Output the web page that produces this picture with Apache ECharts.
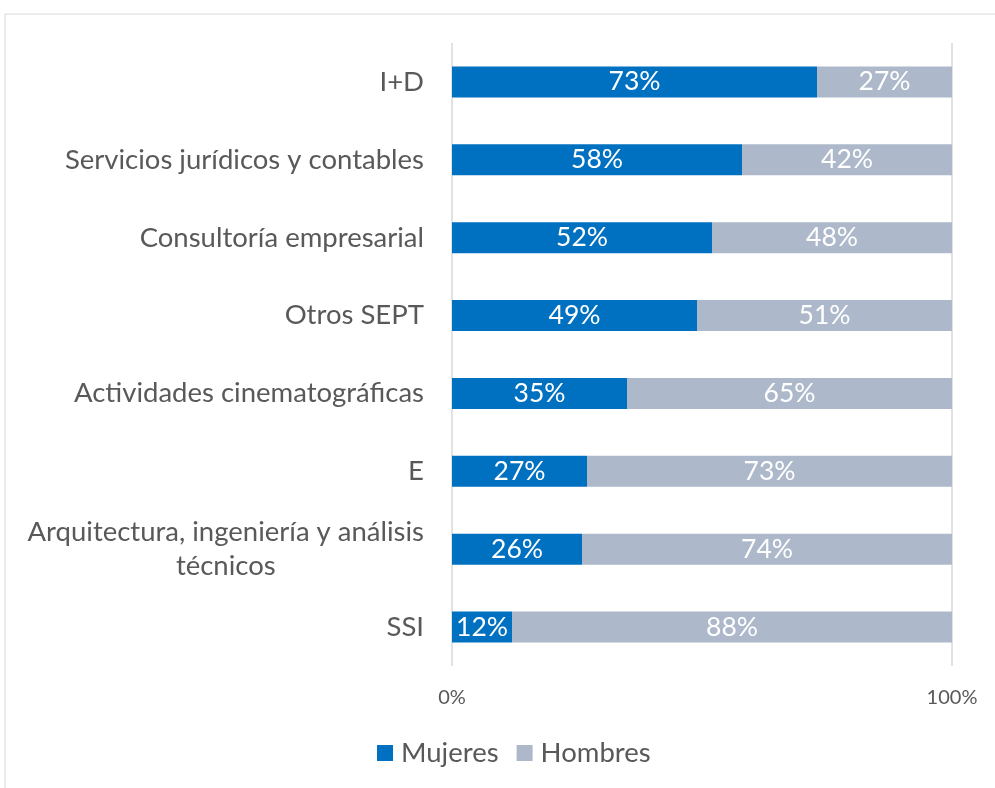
<!DOCTYPE html>
<html>
<head>
<meta charset="utf-8">
<script src="https://cdn.jsdelivr.net/npm/echarts@6/dist/echarts.min.js"></script>
<style>
html, body { margin: 0; padding: 0; background: #fff; }
#chart { width: 995px; height: 788px; }
</style>
</head>
<body>
<div id="chart"></div>
<script>
var categories = ['I+D', 'Servicios jurídicos y contables', 'Consultoría empresarial', 'Otros SEPT',
    'Actividades cinematográficas', 'E', 'Arquitectura, ingeniería y análisis técnicos', 'SSI'];
var mujeres = [73, 58, 52, 49, 35, 27, 26, 12];
var hombres = [27, 42, 48, 51, 65, 73, 74, 88];
var axisTicks = [0, 100];

var font = 'Lato';
var catSize = 27.5;
var valSize = 26.5;

// el texto largo va en dos lineas, la segunda centrada como en Excel
var line1 = 'Arquitectura, ingeniería y análisis';
var line2 = 'técnicos';
var ctx = document.createElement('canvas').getContext('2d');
ctx.font = catSize + 'px ' + font;
var w1 = ctx.measureText(line1).width;

var chart = echarts.init(document.getElementById('chart'), null, { renderer: 'canvas' });

var option = {
    animation: false,
    textStyle: { fontFamily: font },
    graphic: [{
        type: 'rect',
        shape: { x: 5, y: 14, width: 1000, height: 800 },
        style: { fill: 'none', stroke: '#d9d9d9', lineWidth: 1 },
        silent: true
    }],
    grid: { left: 452, right: 43, top: 43, bottom: 122, containLabel: false },
    legend: {
        bottom: 16,
        left: 372,
        itemWidth: 16,
        itemHeight: 16,
        itemGap: 18,
        icon: 'rect',
        textStyle: { fontSize: catSize, color: '#595959', fontFamily: font, padding: [0, 0, 0, 3] },
        data: ['Mujeres', 'Hombres']
    },
    xAxis: {
        type: 'value',
        min: axisTicks[0],
        max: axisTicks[1],
        interval: 100,
        axisLine: { show: false },
        axisTick: { show: false },
        axisLabel: { formatter: '{value}%', fontSize: 20, color: '#595959', margin: 22 },
        splitLine: { show: true, lineStyle: { color: '#d9d9d9', width: 1.5 } }
    },
    yAxis: {
        type: 'category',
        inverse: true,
        data: categories,
        axisLine: { show: false },
        axisTick: { show: false },
        axisLabel: {
            fontSize: catSize,
            color: '#595959',
            margin: 28,
            lineHeight: 34,
            formatter: function (v) {
                if (v === categories[6]) {
                    return line1 + '\n{b|' + line2 + '}';
                }
                return v;
            },
            rich: {
                b: { fontSize: catSize, color: '#595959', width: w1, align: 'center', lineHeight: 34, fontFamily: font }
            }
        }
    },
    series: [
        {
            name: 'Mujeres',
            type: 'bar',
            stack: 'total',
            barWidth: 31,
            data: mujeres,
            itemStyle: { color: '#0070c0' },
            label: { show: true, position: 'inside', color: '#fff', fontSize: valSize, formatter: '{c}%' }
        },
        {
            name: 'Hombres',
            type: 'bar',
            stack: 'total',
            barWidth: 31,
            data: hombres,
            itemStyle: { color: '#adb9ca' },
            label: { show: true, position: 'inside', color: '#fff', fontSize: valSize, formatter: '{c}%' }
        }
    ]
};

chart.setOption(option);
window.addEventListener('resize', chart.resize);
</script>
</body>
</html>
